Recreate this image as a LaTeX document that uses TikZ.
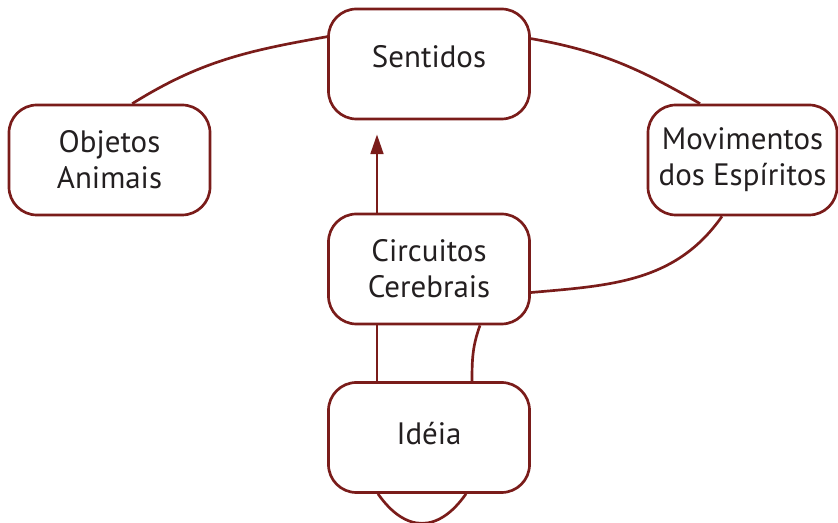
\documentclass[tikz,border=0pt]{standalone}
\usepackage{fontspec}
\setmainfont{PT Sans}
\usetikzlibrary{arrows.meta}
\definecolor{brickred}{RGB}{122,28,26}
\definecolor{inkgray}{RGB}{35,31,32}

\begin{document}
\begin{tikzpicture}[x=0.025cm, y=-0.025cm,
  box/.style={draw=brickred, line width=1.9pt, rounded corners=0.7cm, fill=white,
    minimum width=5.025cm, minimum height=2.75cm, inner sep=0pt, align=center,
    text=inkgray, font=\fontsize{22}{25.6}\selectfont},
  link/.style={draw=brickred, line width=1.9pt}]
  \useasboundingbox (0,0) rectangle (838,523);

  \node[box] (sentidos) at (429,64) {\raisebox{5pt}[\height][\depth]{Sentidos}};
  \node[box] (objetos) at (109.5,160) {Objetos\\Animais};
  \node[box, minimum width=4.725cm] (movimentos) at (742.5,160) {Movimentos\\dos Espíritos};
  \node[box] (circuitos) at (429,269) {Circuitos\\Cerebrais};
  \node[box] (ideia) at (429,437.5) {\raisebox{3pt}[\height][\depth]{Idéia}};

  \draw[link] (objetos.68) to[out=32, in=190] (sentidos.165);
  \draw[link] (sentidos.14) to[out=-10, in=150] (movimentos.127);
  \draw[link] (movimentos.250) to[out=235, in=5] (circuitos.347);
  \draw[link, -{Triangle[length=14pt, width=9pt]}, shorten >=0.35cm]
    ([xshift=-1.3cm]circuitos.north) -- ([xshift=-1.3cm]sentidos.south);
  \draw[link] ([xshift=-1.3cm]circuitos.south) -- ([xshift=-1.3cm]ideia.north);
  \draw[link] ([xshift=1.275cm]circuitos.south) to[out=250, in=90] ([xshift=1.075cm]ideia.north);
  \draw[link] ([xshift=-1.275cm]ideia.south) to[out=-55, in=-125, looseness=1.4] ([xshift=0.925cm]ideia.south);
\end{tikzpicture}
\end{document}
